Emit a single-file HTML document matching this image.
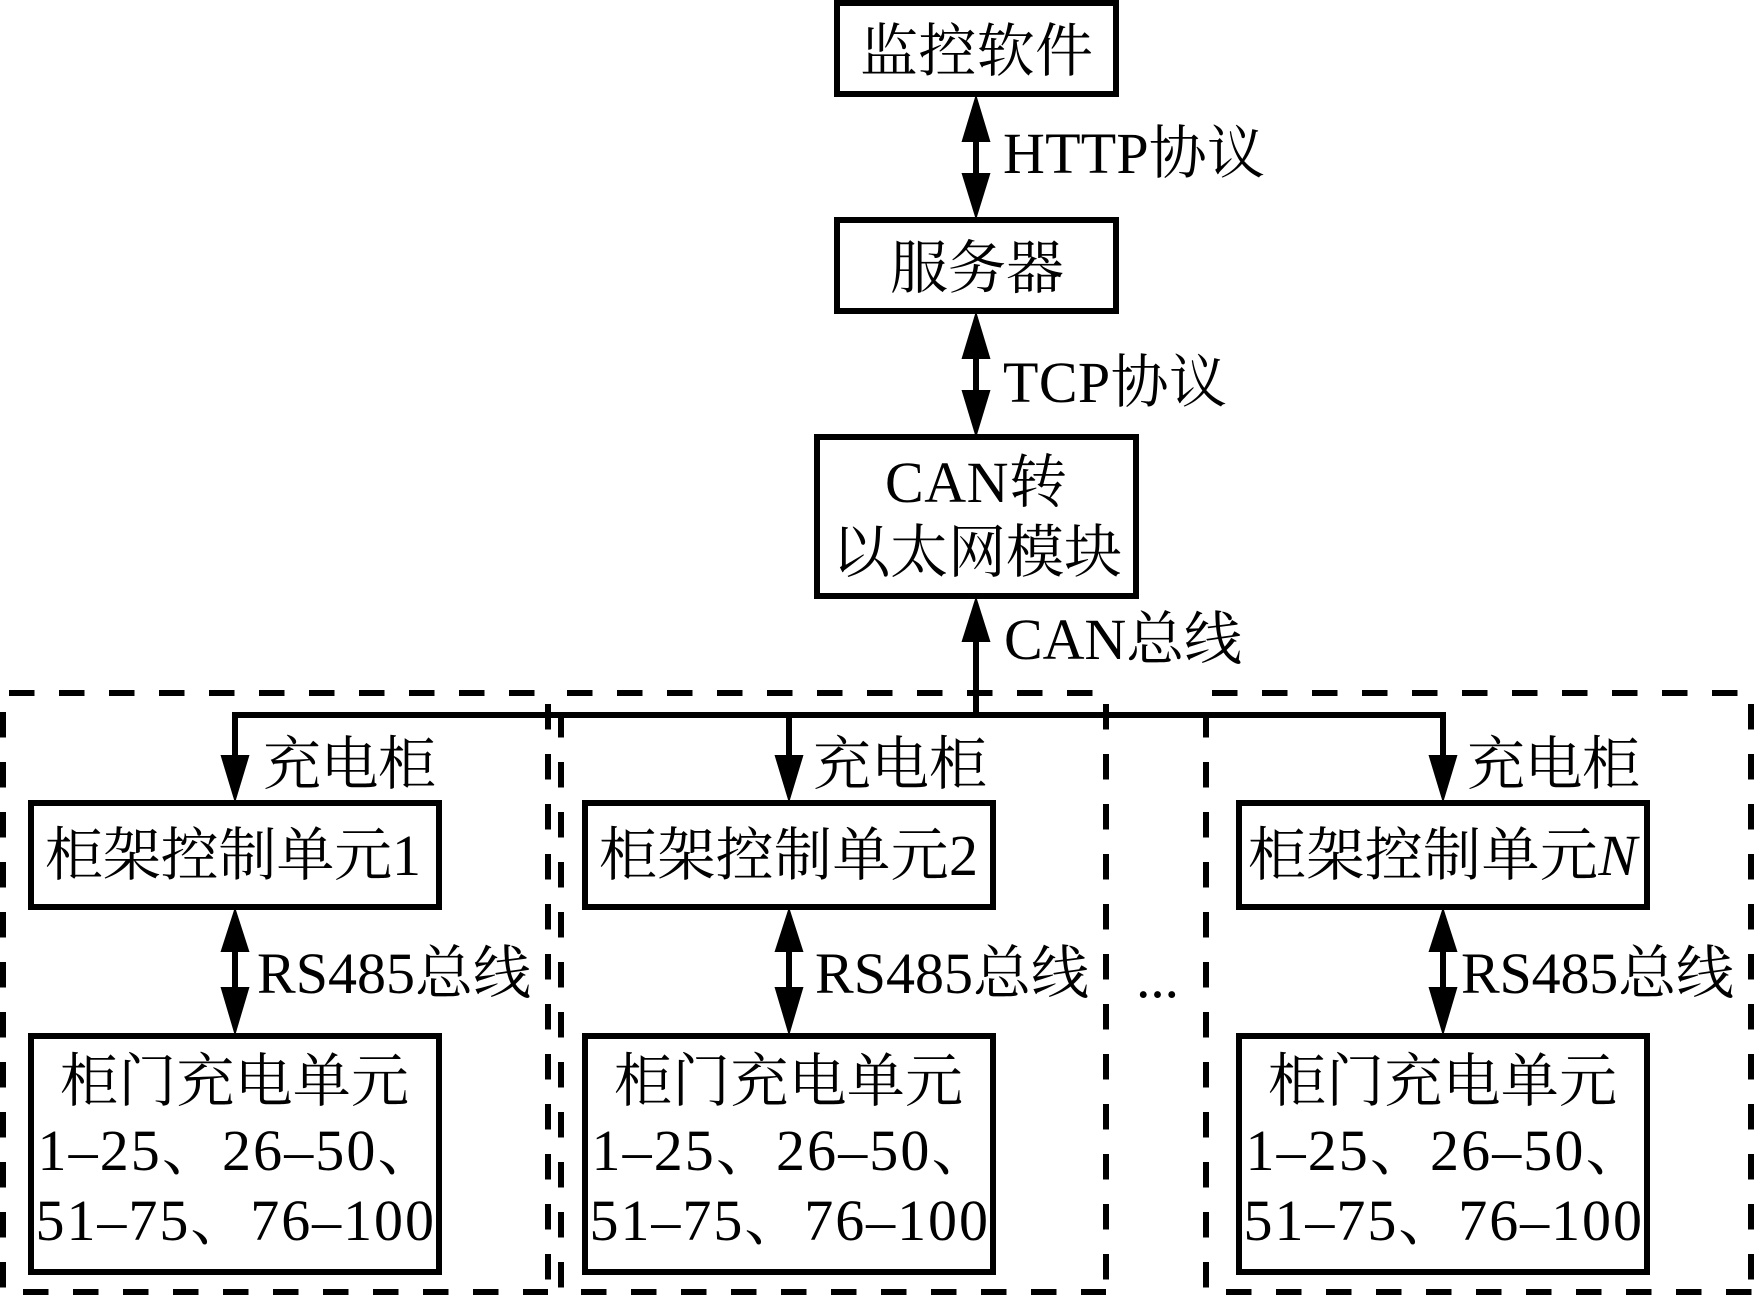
<!DOCTYPE html>
<html><head><meta charset="utf-8"><style>
html,body{margin:0;padding:0;background:#fff;width:1754px;height:1295px;overflow:hidden}
svg{display:block}
text{font-family:"Liberation Serif","Noto Serif CJK SC",serif;font-size:58px;fill:#000}
.b{fill:#fff;stroke:#000;stroke-width:6}
.d{stroke:#000;stroke-width:6;stroke-dasharray:25.5 24.5;fill:none}
.l{stroke:#000;stroke-width:6;fill:none}
</style></head><body>
<svg width="1754" height="1295" viewBox="0 0 1754 1295" xmlns="http://www.w3.org/2000/svg">
<!-- dashed panels -->
<line class="d" x1="9" y1="693" x2="535" y2="693"/>
<line class="d" x1="567" y1="693" x2="1094" y2="693"/>
<line class="d" x1="1212" y1="693" x2="1738" y2="693"/>
<line class="d" x1="23" y1="1292" x2="548" y2="1292"/>
<line class="d" x1="581" y1="1292" x2="1106" y2="1292"/>
<line class="d" x1="1226" y1="1292" x2="1752" y2="1292"/>
<line class="d" x1="3" y1="712" x2="3" y2="1288"/>
<line class="d" x1="548" y1="704" x2="548" y2="1280"/>
<line class="d" x1="561" y1="712" x2="561" y2="1288"/>
<line class="d" x1="1106" y1="704" x2="1106" y2="1280"/>
<line class="d" x1="1206" y1="712" x2="1206" y2="1288"/>
<line class="d" x1="1751" y1="704" x2="1751" y2="1280"/>

<!-- boxes -->
<rect class="b" x="837" y="3" width="279" height="91"/>
<rect class="b" x="837" y="220" width="279" height="91"/>
<rect class="b" x="817" y="437" width="319" height="159"/>
<rect class="b" x="31" y="803" width="408" height="104"/>
<rect class="b" x="31" y="1036" width="408" height="236"/>
<rect class="b" x="585" y="803" width="408" height="104"/>
<rect class="b" x="585" y="1036" width="408" height="236"/>
<rect class="b" x="1239" y="803" width="408" height="104"/>
<rect class="b" x="1239" y="1036" width="408" height="236"/>

<!-- connectors -->
<line class="l" x1="976" y1="120" x2="976" y2="195"/>
<polygon points="976,94 990.5,142 961.5,142"/>
<polygon points="976,220 990.5,173 961.5,173"/>
<line class="l" x1="976" y1="340" x2="976" y2="410"/>
<polygon points="976,311 990.5,359 961.5,359"/>
<polygon points="976,438 990.5,390 961.5,390"/>
<line class="l" x1="976" y1="630" x2="976" y2="718"/>
<polygon points="976,596 990.5,642 961.5,642"/>
<line class="l" x1="232" y1="715" x2="1446" y2="715"/>

<line class="l" x1="235" y1="712" x2="235" y2="770"/>
<polygon points="235,803 249.5,755 220.5,755"/>
<line class="l" x1="789" y1="712" x2="789" y2="770"/>
<polygon points="789,803 803.5,755 774.5,755"/>
<line class="l" x1="1443" y1="712" x2="1443" y2="770"/>
<polygon points="1443,803 1457.5,755 1428.5,755"/>

<line class="l" x1="235" y1="935" x2="235" y2="1005"/>
<polygon points="235,907 249.5,952 220.5,952"/>
<polygon points="235,1036 249.5,987 220.5,987"/>
<line class="l" x1="789" y1="935" x2="789" y2="1005"/>
<polygon points="789,907 803.5,952 774.5,952"/>
<polygon points="789,1036 803.5,987 774.5,987"/>
<line class="l" x1="1443" y1="935" x2="1443" y2="1005"/>
<polygon points="1443,907 1457.5,952 1428.5,952"/>
<polygon points="1443,1036 1457.5,987 1428.5,987"/>

<!-- labels -->
<text x="860" y="71" textLength="233">监控软件</text>
<text x="1003" y="173" textLength="262">HTTP协议</text>
<text x="890" y="288" textLength="174">服务器</text>
<text x="1003" y="402" textLength="224">TCP协议</text>
<text x="885" y="502" textLength="182">CAN转</text>
<text x="832" y="572" textLength="290">以太网模块</text>
<text x="1004" y="659" textLength="238">CAN总线</text>

<text x="263" y="784" textLength="173">充电柜</text>
<text x="813" y="784" textLength="174">充电柜</text>
<text x="1467" y="784" textLength="173">充电柜</text>

<text x="45" y="875" textLength="376">柜架控制单元1</text>
<text x="599" y="875" textLength="379">柜架控制单元2</text>
<text x="1248" y="875" textLength="389">柜架控制单元<tspan font-style="italic">N</tspan></text>

<text x="257" y="993" textLength="274">RS485总线</text>
<text x="815" y="993" textLength="274">RS485总线</text>
<text x="1461" y="993" textLength="273">RS485总线</text>

<text x="60" y="1101" textLength="349">柜门充电单元</text>
<text x="614" y="1101" textLength="349">柜门充电单元</text>
<text x="1268" y="1101" textLength="349">柜门充电单元</text>

<text x="37.5" y="1170" textLength="398">1–25、26–50、</text>
<text x="591.5" y="1170" textLength="398">1–25、26–50、</text>
<text x="1245.5" y="1170" textLength="398">1–25、26–50、</text>

<text x="35.5" y="1240" textLength="398.5">51–75、76–100</text>
<text x="589.5" y="1240" textLength="398.5">51–75、76–100</text>
<text x="1243.5" y="1240" textLength="398.5">51–75、76–100</text>

<text x="1136" y="997" textLength="43">...</text>
</svg>
</body></html>
